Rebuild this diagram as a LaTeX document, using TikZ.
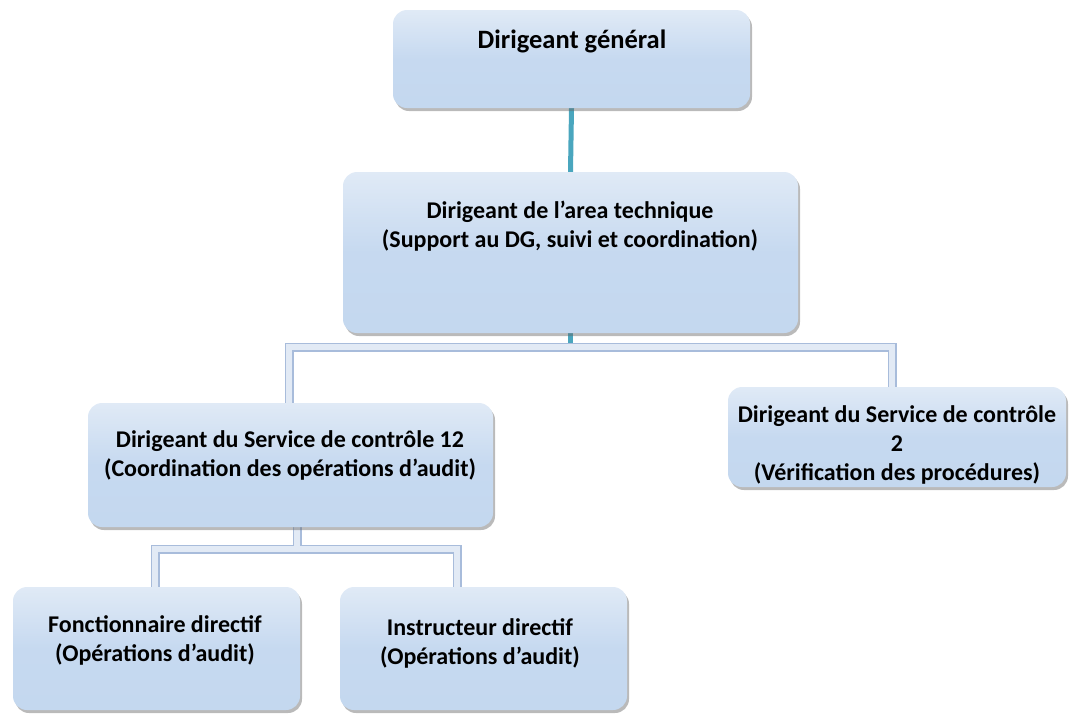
\documentclass[tikz,border=0pt]{standalone}
\usepackage{fontspec}
\setmainfont{Carlito}
\usetikzlibrary{shadows,backgrounds,calc}

\definecolor{boxfill}{HTML}{C6D9F0}
\definecolor{boxtop}{HTML}{E0EAF6}
\definecolor{boxbot}{HTML}{C4D8EF}
\definecolor{linkteal}{HTML}{4AA6BE}
\definecolor{tubefill}{HTML}{E2EAF5}
\definecolor{tubeedge}{HTML}{A8BCDB}
\definecolor{tubeshade}{HTML}{8E8888}

\tikzset{
  orgbox/.style={rectangle, rounded corners=14pt, draw=none,
    top color=boxtop, bottom color=boxbot, middle color=boxfill,
    drop shadow={shadow xshift=2pt, shadow yshift=-3pt, opacity=0.45, fill=black!60},
    inner sep=0pt},
  orgtext/.style={align=center, font=\fontsize{24}{29}\selectfont\bfseries, inner sep=0pt},
  toptext/.style={orgtext, font=\fontsize{26.5}{31}\selectfont\bfseries},
  tealink/.style={draw=linkteal, line width=5pt},
  tubeshadow/.style={draw=tubeshade, line width=9pt, opacity=0.5},
  tubeside/.style={draw=tubeedge, line width=9pt},
  tubecore/.style={draw=tubefill, line width=6pt},
}

\begin{document}
\begin{tikzpicture}[x=1pt, y=-1pt]
\useasboundingbox (0,0) rectangle (1072,713);

% boxes
\node[orgbox, minimum width=357pt, minimum height=98pt] (dg) at (571.5,59) {};
\node[orgbox, minimum width=455pt, minimum height=161pt] (dat) at (570.5,252.5) {};
\node[orgbox, minimum width=405pt, minimum height=124pt] (sc12) at (290.5,465) {};
\node[orgbox, minimum width=338pt, minimum height=100pt] (sc2) at (897,437) {};
\node[orgbox, minimum width=287pt, minimum height=123pt] (fd) at (156.5,648.5) {};
\node[orgbox, minimum width=287pt, minimum height=123pt] (idr) at (483.5,648.5) {};

% labels
\node[toptext] (tdg) at (572,41) {Dirigeant général};
\node[orgtext] (tdat) at (570,226) {Dirigeant de l’area technique\\(Support au DG, suivi et coordination)};
\node[orgtext] (tsc12) at (290,455) {Dirigeant du Service de contrôle 12\\(Coordination des opérations d’audit)};
\node[orgtext] (tsc2) at (897,445) {Dirigeant du Service de contrôle\\2\\(Vérification des procédures)};
\node[orgtext] (tfd) at (155,640) {Fonctionnaire directif\\(Opérations d’audit)};
\node[orgtext] (tidr) at (480,643) {Instructeur directif\\(Opérations d’audit)};

% connectors
\begin{scope}[on background layer]
  \draw[tealink] (dg.south) -- (dat.north);
  \draw[tealink] (dat.south) -- ++(0,14) coordinate (hubA);
  % upper bracket
  \coordinate (aL) at (289,0);
  \coordinate (aR) at (892,0);
  \foreach \s/\dx/\dy in {tubeshadow/1/5, tubeside/0/0, tubecore/0/0}{
    \draw[\s, shift={(\dx pt,-\dy pt)}] (aL |- sc12.north) -- (aL |- hubA) -- (aR |- hubA) -- (aR |- sc2.north);
  }
  % lower bracket
  \coordinate (hubB) at (297,549);
  \coordinate (bL) at (155,0);
  \coordinate (bR) at (457,0);
  \foreach \s/\dx/\dy in {tubeshadow/1/5, tubeside/0/0, tubecore/0/0}{
    \draw[\s, shift={(\dx pt,-\dy pt)}] (hubB |- sc12.south) -- (hubB);
    \draw[\s, shift={(\dx pt,-\dy pt)}] (bL |- fd.north) -- (bL |- hubB) -- (bR |- hubB) -- (bR |- idr.north);
  }
\end{scope}
\end{tikzpicture}
\end{document}
